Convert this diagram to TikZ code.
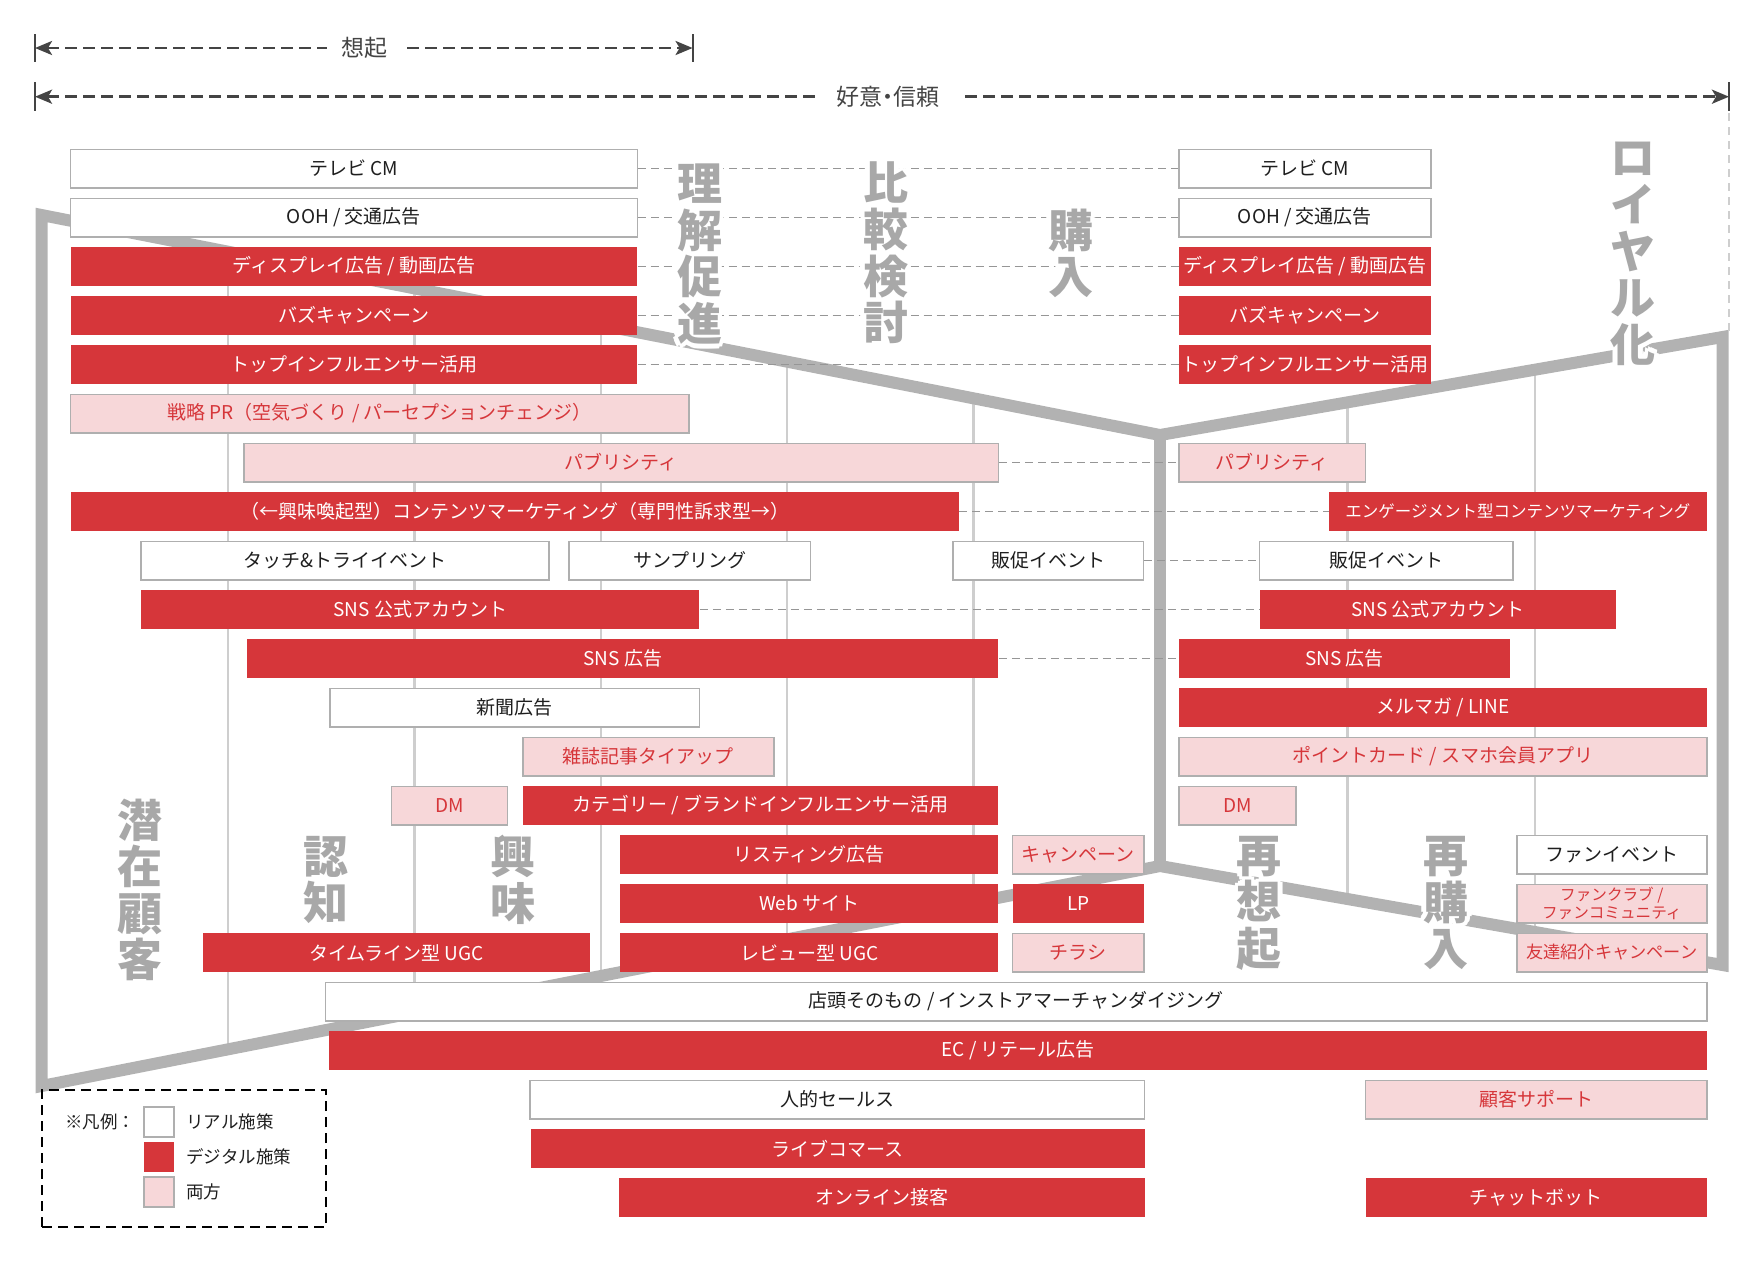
\documentclass[tikz,border=0pt]{standalone}
\usepackage{fontspec}
\setmainfont{Noto Sans CJK JP}
\usetikzlibrary{arrows.meta,calc}
\definecolor{cred}{RGB}{214,54,58}
\definecolor{cpink}{RGB}{247,215,217}
\definecolor{cbord}{RGB}{175,175,175}
\definecolor{cfun}{RGB}{178,178,178}
\definecolor{cdiv}{RGB}{206,206,206}
\definecolor{cstage}{RGB}{168,168,168}
\definecolor{ctext}{RGB}{30,30,30}
\definecolor{carrow}{RGB}{68,68,68}
\definecolor{cconn}{RGB}{150,150,150}
\pgfdeclarelayer{lfun}
\pgfdeclarelayer{lconn}
\pgfdeclarelayer{lstage}
\pgfsetlayers{lfun,lconn,lstage,main}
\tikzset{
 bx/.style={inner sep=0pt, minimum height=19.2pt, font=\fontsize{9.5}{11}\selectfont, align=center},
 realbox/.style={bx, draw=cbord, line width=0.8pt, fill=white, text=ctext},
 digibox/.style={bx, fill=cred, text=white},
 bothbox/.style={bx, draw=cbord, line width=0.8pt, fill=cpink, text=cred},
 conn/.style={draw=cconn, line width=0.6pt, dash pattern=on 4pt off 2.5pt},
 funnel/.style={draw=cfun, line width=6pt, line join=miter},
 divider/.style={draw=cdiv, line width=1.2pt},
 stagetxt/.style={inner sep=0pt, align=center, font=\fontsize{22.5}{23.3}\selectfont\bfseries},
 toparrow/.style={draw=carrow, line width=1.4pt, dash pattern=on 6pt off 3pt,
   {Stealth[length=8.5pt,width=7pt,inset=2pt]}-{Stealth[length=8.5pt,width=7pt,inset=2pt]}},
 toplabel/.style={fill=white, inner xsep=7pt, inner ysep=2pt, text=carrow, font=\fontsize{11.5}{13}\selectfont},
 tickline/.style={draw=carrow, line width=1.1pt},
 vdash/.style={draw=cdiv, line width=0.6pt, dash pattern=on 4pt off 3pt},
 legendframe/.style={draw=black, line width=0.9pt, dash pattern=on 5pt off 3pt, inner sep=0pt},
 legendtxt/.style={anchor=west, inner sep=0pt, text=ctext, font=\fontsize{8.75}{10}\selectfont},
}
% #1 style, #2 name, #3 x-left, #4 x-right, #5 row, #6 text
\newcommand\bx[6]{\node[#1, minimum width={(#4-#3)*0.5pt}] (#2) at ({(#3+#4)/2},{168.5+49*#5}) {#6};}
% #1 name, #2 x, #3 y, #4 text  (white halo, then grey text)
\newcommand\stagelabel[4]{%
 \foreach \a [count=\i] in {0,45,...,315}{\node[stagetxt,text=white] (#1h\i) at ([shift={(\a:2.4pt)}]#2,#3) {#4};}
 \node[stagetxt,text=cstage] (#1) at (#2,#3) {#4};}
\begin{document}
\begin{tikzpicture}[x=0.5pt,y=-0.5pt]
\useasboundingbox (0,0) rectangle (1760,1260);

% ---------- funnel ----------
\coordinate (TL) at (41.5,215);
\coordinate (TJ) at (1160,435);
\coordinate (BJ) at (1160,866);
\coordinate (BL) at (41.5,1086);
\coordinate (TR) at (1722.5,337);
\coordinate (BR) at (1722.5,965);
\begin{pgfonlayer}{lfun}
 \foreach \k in {1,...,5}{\draw[divider] ($(TL)!\k/6!(TJ)$) -- ($(BL)!\k/6!(BJ)$);}
 \foreach \k in {1,2}{\draw[divider] ($(TJ)!\k/3!(TR)$) -- ($(BJ)!\k/3!(BR)$);}
 \draw[funnel] (TL) -- (TJ) -- (TR) -- (BR) -- (BJ) -- (BL) -- cycle;
 \draw[funnel] (TJ) -- (BJ);
\end{pgfonlayer}

% ---------- stage labels ----------
\begin{pgfonlayer}{lstage}
 \stagelabel{st1}{140}{890}{潜\\在\\顧\\客}
 \stagelabel{st2}{326}{880}{認\\知}
 \stagelabel{st3}{513}{880}{興\\味}
 \stagelabel{st4}{699.6}{254}{理\\解\\促\\進}
 \stagelabel{st5}{885.5}{253}{比\\較\\検\\討}
 \stagelabel{st6}{1071}{253.4}{購\\入}
 \stagelabel{st7}{1259}{903}{再\\想\\起}
 \stagelabel{st8}{1446}{903}{再\\購\\入}
 \stagelabel{st9}{1633}{254}{ロ\\イ\\ヤ\\ル\\化}
\end{pgfonlayer}

% ---------- boxes ----------
\bx{realbox}{a0}{70.5}{637.3}{0}{テレビ CM}
\bx{realbox}{b0}{1178.9}{1431}{0}{テレビ CM}
\bx{realbox}{a1}{70.5}{637.3}{1}{OOH / 交通広告}
\bx{realbox}{b1}{1178.9}{1431}{1}{OOH / 交通広告}
\bx{digibox}{a2}{70.5}{637.3}{2}{ディスプレイ広告 / 動画広告}
\bx{digibox}{b2}{1178.9}{1431}{2}{ディスプレイ広告 / 動画広告}
\bx{digibox}{a3}{70.5}{637.3}{3}{バズキャンペーン}
\bx{digibox}{b3}{1178.9}{1431}{3}{バズキャンペーン}
\bx{digibox}{a4}{70.5}{637.3}{4}{トップインフルエンサー活用}
\bx{digibox}{b4}{1178.9}{1431}{4}{トップインフルエンサー活用}
\bx{bothbox}{pr}{70.5}{688.7}{5}{戦略 PR（空気づくり / パーセプションチェンジ）}
\bx{bothbox}{pubL}{243.7}{998.4}{6}{パブリシティ}
\bx{bothbox}{pubR}{1178.9}{1365.6}{6}{パブリシティ}
\bx{digibox}{cmL}{70.5}{959}{7}{（←興味喚起型）コンテンツマーケティング（専門性訴求型→）}
\bx{digibox,font=\fontsize{8.25}{10}\selectfont}{cmR}{1329}{1706.8}{7}{エンゲージメント型コンテンツマーケティング}
\bx{realbox}{touch}{141}{548.8}{8}{タッチ\&トライイベント}
\bx{realbox}{samp}{569}{810.5}{8}{サンプリング}
\bx{realbox}{hsL}{952.8}{1143.4}{8}{販促イベント}
\bx{realbox}{hsR}{1259.6}{1512.8}{8}{販促イベント}
\bx{digibox}{snsoL}{141}{699.4}{9}{SNS 公式アカウント}
\bx{digibox}{snsoR}{1259.6}{1616}{9}{SNS 公式アカウント}
\bx{digibox}{snsaL}{247}{998.4}{10}{SNS 広告}
\bx{digibox}{snsaR}{1178.9}{1510}{10}{SNS 広告}
\bx{realbox}{news}{330}{699.4}{11}{新聞広告}
\bx{digibox}{mail}{1178.9}{1706.8}{11}{メルマガ / LINE}
\bx{bothbox}{mag}{522.8}{773.8}{12}{雑誌記事タイアップ}
\bx{bothbox}{point}{1178.9}{1706.8}{12}{ポイントカード / スマホ会員アプリ}
\bx{bothbox}{dmL}{391.4}{507.6}{13}{DM}
\bx{digibox}{cat}{522.8}{998.4}{13}{カテゴリー / ブランドインフルエンサー活用}
\bx{bothbox}{dmR}{1178.9}{1295.7}{13}{DM}
\bx{digibox}{list}{619.9}{998.4}{14}{リスティング広告}
\bx{bothbox}{camp}{1012.5}{1144}{14}{キャンペーン}
\bx{realbox}{fanev}{1516.8}{1706.8}{14}{ファンイベント}
\bx{digibox}{web}{619.9}{998.4}{15}{Web サイト}
\bx{digibox}{lp}{1012.5}{1144}{15}{LP}
\bx{bothbox,font=\fontsize{7.8}{9}\selectfont}{fanclub}{1516.8}{1706.8}{15}{ファンクラブ /\\ファンコミュニティ}
\bx{digibox}{tlugc}{203}{590}{16}{タイムライン型 UGC}
\bx{digibox}{rvugc}{619.9}{998.4}{16}{レビュー型 UGC}
\bx{bothbox}{flyer}{1012.5}{1144}{16}{チラシ}
\bx{bothbox,font=\fontsize{8.6}{10}\selectfont}{friend}{1516.8}{1706.8}{16}{友達紹介キャンペーン}
\bx{realbox}{store}{325.4}{1706.8}{17}{店頭そのもの / インストアマーチャンダイジング}
\bx{digibox}{ec}{329.4}{1706.8}{18}{EC / リテール広告}
\bx{realbox}{sales}{530.2}{1144.5}{19}{人的セールス}
\bx{bothbox}{support}{1365.6}{1706.8}{19}{顧客サポート}
\bx{digibox}{live}{531.3}{1144.5}{20}{ライブコマース}
\bx{digibox}{online}{618.7}{1144.5}{21}{オンライン接客}
\bx{digibox}{chat}{1365.6}{1706.8}{21}{チャットボット}

% ---------- dashed connectors ----------
\begin{pgfonlayer}{lconn}
 \foreach \r in {0,...,4}{\draw[conn] (a\r.east) -- (b\r.west);}
 \draw[conn] (pubL.east) -- (pubR.west);
 \draw[conn] (cmL.east) -- (cmR.west);
 \draw[conn] (hsL.east) -- (hsR.west);
 \draw[conn] (snsoL.east) -- (snsoR.west);
 \draw[conn] (snsaL.east) -- (snsaR.west);
\end{pgfonlayer}

% ---------- top span arrows ----------
\coordinate (s1l) at (35,48);
\coordinate (s1r) at (692.6,48);
\coordinate (k1a) at (35,34);
\coordinate (k1b) at (35,62);
\coordinate (k2a) at (692.6,34);
\coordinate (k2b) at (692.6,62);
\draw[toparrow] (s1l) -- (s1r);
\draw[tickline] (k1a) -- (k1b);
\draw[tickline] (k2a) -- (k2b);
\node[toplabel] (lab1) at (364,48) {想起};

\coordinate (s2l) at (35,96.7);
\coordinate (s2r) at (1729,96.7);
\coordinate (k3a) at (35,82);
\coordinate (k3b) at (35,111);
\coordinate (k4a) at (1729,82);
\coordinate (k4b) at (1729,111);
\draw[toparrow] (s2l) -- (s2r);
\draw[tickline] (k3a) -- (k3b);
\draw[tickline] (k4a) -- (k4b);
\node[toplabel, inner xsep=10pt] (lab2) at (888,96.7) {好意\kern-0.28em・\kern-0.28em信頼};
\coordinate (vd1) at (1729,113);
\coordinate (vd2) at (1729,333);
\draw[vdash] (vd1) -- (vd2);

% ---------- legend ----------
\node[legendframe, minimum width=142pt, minimum height=68.5pt] (legend) at (184,1158.5) {};
\node[legendtxt] (lgtitle) at (65,1122) {※凡例：};
\node[realbox, minimum width=15pt, minimum height=15pt] (lg1) at (159,1122) {};
\node[digibox, minimum width=15pt, minimum height=15pt] (lg2) at (159,1157) {};
\node[bothbox, minimum width=15pt, minimum height=15pt] (lg3) at (159,1192) {};
\node[legendtxt] (lt1) at (186,1122) {リアル施策};
\node[legendtxt] (lt2) at (186,1157) {デジタル施策};
\node[legendtxt] (lt3) at (186,1192) {両方};
\end{tikzpicture}
\end{document}
